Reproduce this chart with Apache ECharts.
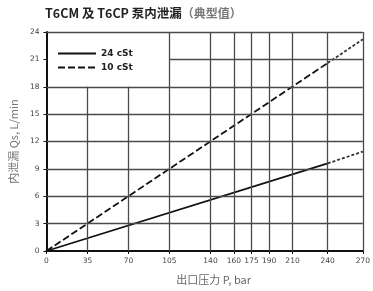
<!DOCTYPE html>
<html>
<head>
<meta charset="utf-8">
<script src="https://cdn.jsdelivr.net/npm/echarts@6/dist/echarts.min.js"></script>
<style>
  html, body { margin: 0; padding: 0; background: #fff; }
  #chart { width: 373px; height: 291px; }
</style>
</head>
<body>
<div id="chart"></div>
<script>
// 数据
const xTicks = [0, 35, 70, 105, 140, 160, 175, 190, 210, 240, 270];
const yTicks = [0, 3, 6, 9, 12, 15, 18, 21, 24];
const pressure = [0, 240, 270];        // 出口压力 P, bar
const leak24 = [0, 9.6, 10.9];         // 24 cSt
const leak10 = [0, 20.6, 23.2];        // 10 cSt

const chart = echarts.init(document.getElementById('chart'));

// 图例框区域不画网格（0~105 bar, 18~24 L/min）
const gridColor = '#4a4a4a';
const gridLines = [];
xTicks.slice(1).forEach(function (x) {
  const top = x < 105 ? 18 : 24;
  gridLines.push([{ coord: [x, 0] }, { coord: [x, top] }]);
});
yTicks.slice(1).forEach(function (y) {
  const left = y > 18 && y < 24 ? 105 : 0;
  gridLines.push([{ coord: [left, y] }, { coord: [270, y] }]);
});

function seg(arr, a, b) {
  return [[pressure[a], arr[a]], [pressure[b], arr[b]]];
}

const option = {
  animation: false,
  color: ['#111', '#111', '#333', '#111', '#333'],
  title: {
    text: '{b|T6CM 及 T6CP 泵内泄漏}{n|（典型值）}',
    left: 40,
    top: 2,
    textStyle: {
      rich: {
        b: { fontFamily: 'Noto Sans CJK SC', fontSize: 12.5, fontWeight: 'bold', color: '#222' },
        n: { fontFamily: 'Noto Sans CJK SC', fontSize: 12, color: '#777' }
      }
    }
  },
  legend: {
    data: ['24 cSt', '10 cSt'],
    orient: 'vertical',
    left: 52,
    top: 44,
    itemWidth: 38,
    itemHeight: 10,
    itemGap: 5,
    itemStyle: { opacity: 0 },
    textStyle: { fontSize: 9, fontWeight: 'bold', color: '#222', fontFamily: 'DejaVu Sans' }
  },
  grid: { left: 45, right: 4, top: 32, bottom: 40 },
  xAxis: {
    type: 'value',
    min: 0,
    max: 270,
    name: '出口压力 P, bar',
    nameLocation: 'middle',
    nameGap: 23,
    nameTextStyle: { fontFamily: 'Noto Sans CJK SC', fontSize: 11, color: '#666', padding: [0, 0, 0, 18] },
    axisLine: { lineStyle: { color: '#111', width: 2 } },
    axisTick: { show: true, customValues: xTicks, length: 3, lineStyle: { color: '#111' } },
    axisLabel: { customValues: xTicks, fontSize: 7.5, color: '#444', margin: 6, fontFamily: 'DejaVu Sans' },
    splitLine: { show: false }
  },
  yAxis: {
    type: 'value',
    min: 0,
    max: 24,
    interval: 3,
    name: '内泄漏 Qs, L/min',
    nameLocation: 'middle',
    nameGap: 26,
    nameTextStyle: { fontFamily: 'Noto Sans CJK SC', fontSize: 11, color: '#777' },
    axisLine: { show: true, lineStyle: { color: '#111', width: 2 } },
    axisTick: { show: true, length: 3, lineStyle: { color: '#111' } },
    axisLabel: { fontSize: 7.5, color: '#444', margin: 7, fontFamily: 'DejaVu Sans' },
    splitLine: { show: false }
  },
  series: [
    {
      name: 'grid',
      type: 'line',
      data: [],
      silent: true,
      markLine: {
        silent: true,
        symbol: 'none',
        label: { show: false },
        lineStyle: { color: gridColor, type: 'solid', width: 1.3 },
        data: gridLines
      }
    },
    {
      name: '24 cSt',
      type: 'line',
      symbol: 'none',
      data: seg(leak24, 0, 1),
      itemStyle: { color: '#111' },
      lineStyle: { color: '#111', width: 1.8, type: 'solid' }
    },
    {
      name: '24 cSt ext',
      type: 'line',
      symbol: 'none',
      data: seg(leak24, 1, 2),
      lineStyle: { color: '#333', width: 1.8, type: [3, 2] }
    },
    {
      name: '10 cSt',
      type: 'line',
      symbol: 'none',
      data: seg(leak10, 0, 1),
      itemStyle: { color: '#111' },
      lineStyle: { color: '#111', width: 1.8, type: [7, 3] }
    },
    {
      name: '10 cSt ext',
      type: 'line',
      symbol: 'none',
      data: seg(leak10, 1, 2),
      lineStyle: { color: '#333', width: 1.8, type: [3, 2] }
    }
  ]
};

chart.setOption(option);
</script>
</body>
</html>
